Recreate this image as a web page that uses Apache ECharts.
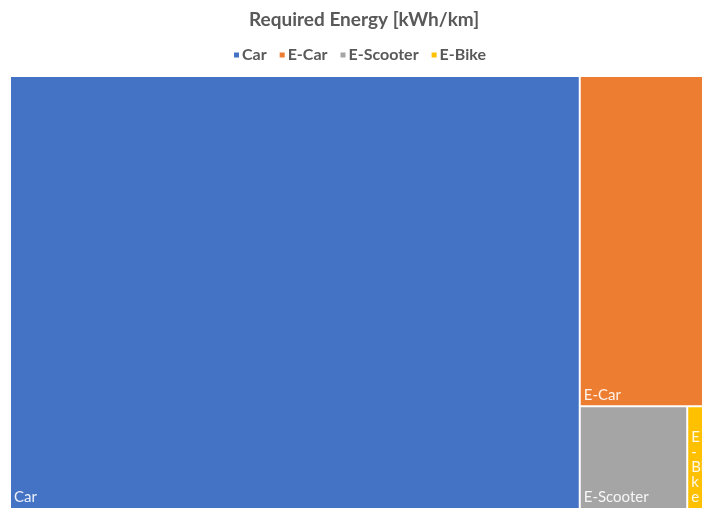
<!DOCTYPE html>
<html><head><meta charset="utf-8">
<script src="https://cdn.jsdelivr.net/npm/echarts@6/dist/echarts.min.js"></script>
<style>html,body{margin:0;padding:0;background:#fff}#c{width:702px;height:508px}</style>
</head><body><div id="c"></div>
<script>
const categories = ['Car', 'E-Car', 'E-Scooter', 'E-Bike'];
const values = [0.594, 0.098, 0.0266, 0.0039];
const colors = ['#4472C4', '#ED7D31', '#A5A5A5', '#FFC000'];
const titleText = 'Required Energy [kWh/km]';

const chart = echarts.init(document.getElementById('c'));
const fontFam = 'Lato, "Open Sans", sans-serif';
const legendSeries = categories.map((name, i) => ({
  name, type: 'line', data: [], xAxisIndex: 0, yAxisIndex: 0,
  itemStyle: { color: colors[i] }, lineStyle: { opacity: 0 }, silent: true
}));
chart.setOption({
  animation: false,
  title: { text: titleText, left: 244, top: 5,
    textStyle: { fontFamily: fontFam, fontSize: 19, fontWeight: 'bold', color: '#595959' } },
  legend: { top: 42, left: 229, icon: 'rect', itemWidth: 5, itemHeight: 5, itemGap: 13,
    data: categories, selectedMode: false,
    textStyle: { fontFamily: fontFam, fontSize: 16, fontWeight: 'bold', color: '#595959', padding: [0,0,0,-2] } },
  grid: { show: false, left: 0, top: 0, width: 1, height: 1 },
  xAxis: { show: false, type: 'value' },
  yAxis: { show: false, type: 'value' },
  series: [
    ...legendSeries,
    {
      type: 'treemap', name: 'Required Energy',
      left: 11, top: 77, right: 0, bottom: 0,
      roam: false, nodeClick: false,
      breadcrumb: { show: false },
      levels: [
        { itemStyle: { borderWidth: 0, gapWidth: 2, borderColor: '#fff' } },
        { itemStyle: { borderWidth: 0 } }
      ],
      label: { show: true, position: 'insideBottomLeft', color: 'rgba(255,255,255,0.9)',
        fontFamily: fontFam, fontSize: 15, overflow: 'breakAll',
        formatter: '{b}', padding: [0, 0, 0, 0], distance: 3 },
      data: categories.map((name, i) => ({ name, value: values[i], itemStyle: { color: colors[i] } }))
    }
  ]
});
</script></body></html>
